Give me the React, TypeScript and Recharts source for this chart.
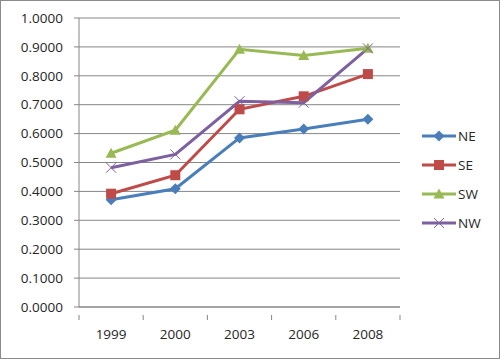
import { LineChart, Line, XAxis, YAxis, CartesianGrid, Legend } from 'recharts';

const years = ['1999', '2000', '2003', '2006', '2008'];
const ne = [0.371, 0.409, 0.585, 0.616, 0.650];
const se = [0.392, 0.456, 0.684, 0.729, 0.806];
const sw = [0.532, 0.612, 0.892, 0.870, 0.895];
const nw = [0.482, 0.528, 0.712, 0.707, 0.895];
const yTicks = [0, 0.1, 0.2, 0.3, 0.4, 0.5, 0.6, 0.7, 0.8, 0.9, 1.0];

const data = years.map((y, i) => ({ year: y, NE: ne[i], SE: se[i], SW: sw[i], NW: nw[i] }));

const SERIES = [
  { key: 'NE', color: '#4A7EBB', shape: 'diamond' },
  { key: 'SE', color: '#BE4B48', shape: 'square' },
  { key: 'SW', color: '#98B954', shape: 'triangle' },
  { key: 'NW', color: '#7D60A0', shape: 'x' },
];

const FONT = '"Open Sans", sans-serif';

function Marker({ cx, cy, shape, color }: any) {
  if (cx == null || cy == null) return null;
  if (shape === 'diamond') {
    const r = 5.5;
    return <polygon points={`${cx},${cy - r} ${cx + r},${cy} ${cx},${cy + r} ${cx - r},${cy}`} fill={color} />;
  }
  if (shape === 'square') {
    const r = 5;
    return <rect x={cx - r} y={cy - r} width={r * 2} height={r * 2} fill={color} />;
  }
  if (shape === 'triangle') {
    const r = 5.5;
    return <polygon points={`${cx},${cy - r} ${cx + r},${cy + r - 1} ${cx - r},${cy + r - 1}`} fill={color} />;
  }
  const r = 5;
  return (
    <g stroke={color} strokeWidth={1}>
      <line x1={cx - r} y1={cy - r} x2={cx + r} y2={cy + r} />
      <line x1={cx - r} y1={cy + r} x2={cx + r} y2={cy - r} />
    </g>
  );
}

// category label in the middle, tick mark on the band edges
function XTick(props: any) {
  const { x, y, payload, index, visibleTicksCount, width } = props;
  const band = width / visibleTicksCount;
  const left = x - band / 2;
  return (
    <g>
      <line x1={left} y1={y} x2={left} y2={y + 5} stroke="#868686" />
      {index === visibleTicksCount - 1 && (
        <line x1={left + band} y1={y} x2={left + band} y2={y + 5} stroke="#868686" />
      )}
      <text x={x} y={y + 24} textAnchor="middle" fontSize={13.5} fontFamily={FONT} fill="#262626">
        {payload.value}
      </text>
    </g>
  );
}

function LegendBox() {
  return (
    <div style={{ fontFamily: FONT, fontSize: 13.5, color: '#262626' }}>
      {SERIES.map(s => (
        <div key={s.key} style={{ display: 'flex', alignItems: 'center', height: 29 }}>
          <svg width={34} height={14}>
            <line x1={0} y1={7} x2={34} y2={7} stroke={s.color} strokeWidth={3} />
            <Marker cx={17} cy={7} shape={s.shape} color={s.color} />
          </svg>
          <span style={{ marginLeft: 2 }}>{s.key}</span>
        </div>
      ))}
    </div>
  );
}

export default function App() {
  return (
    <div style={{ position: 'absolute', left: 0, top: 0, width: 500, height: 359, background: '#fff',
      border: '1px solid #8a8a8a', boxSizing: 'border-box' }}>
      <div style={{ position: 'absolute', left: -1, top: -1 }}>
        <LineChart width={500} height={359} data={data} margin={{ top: 18, right: 100, bottom: 12, left: 0 }}>
          <CartesianGrid vertical={false} stroke="#868686" />
          <XAxis dataKey="year" scale="band" height={40} axisLine={{ stroke: '#868686' }} tickLine={false}
            tick={<XTick />} interval={0} />
          <YAxis width={79} domain={[0, 1]} ticks={yTicks} interval={0}
            axisLine={{ stroke: '#868686' }} tickLine={{ stroke: '#868686' }} tickSize={5} tickMargin={11}
            tickFormatter={(v: number) => v.toFixed(4)}
            tick={{ fontSize: 13.5, fontFamily: FONT, fill: '#262626' }} />
          {SERIES.map(s => (
            <Line key={s.key} dataKey={s.key} stroke={s.color} strokeWidth={3} isAnimationActive={false}
              dot={(p: any) => <Marker key={`${s.key}-${p.index}`} cx={p.cx} cy={p.cy} shape={s.shape} color={s.color} />}
              activeDot={false} />
          ))}
          <Legend layout="horizontal" verticalAlign="middle" align="center" content={<LegendBox />}
            wrapperStyle={{ left: 422, top: 121, width: 70, height: 120 }} />
        </LineChart>
      </div>
    </div>
  );
}
